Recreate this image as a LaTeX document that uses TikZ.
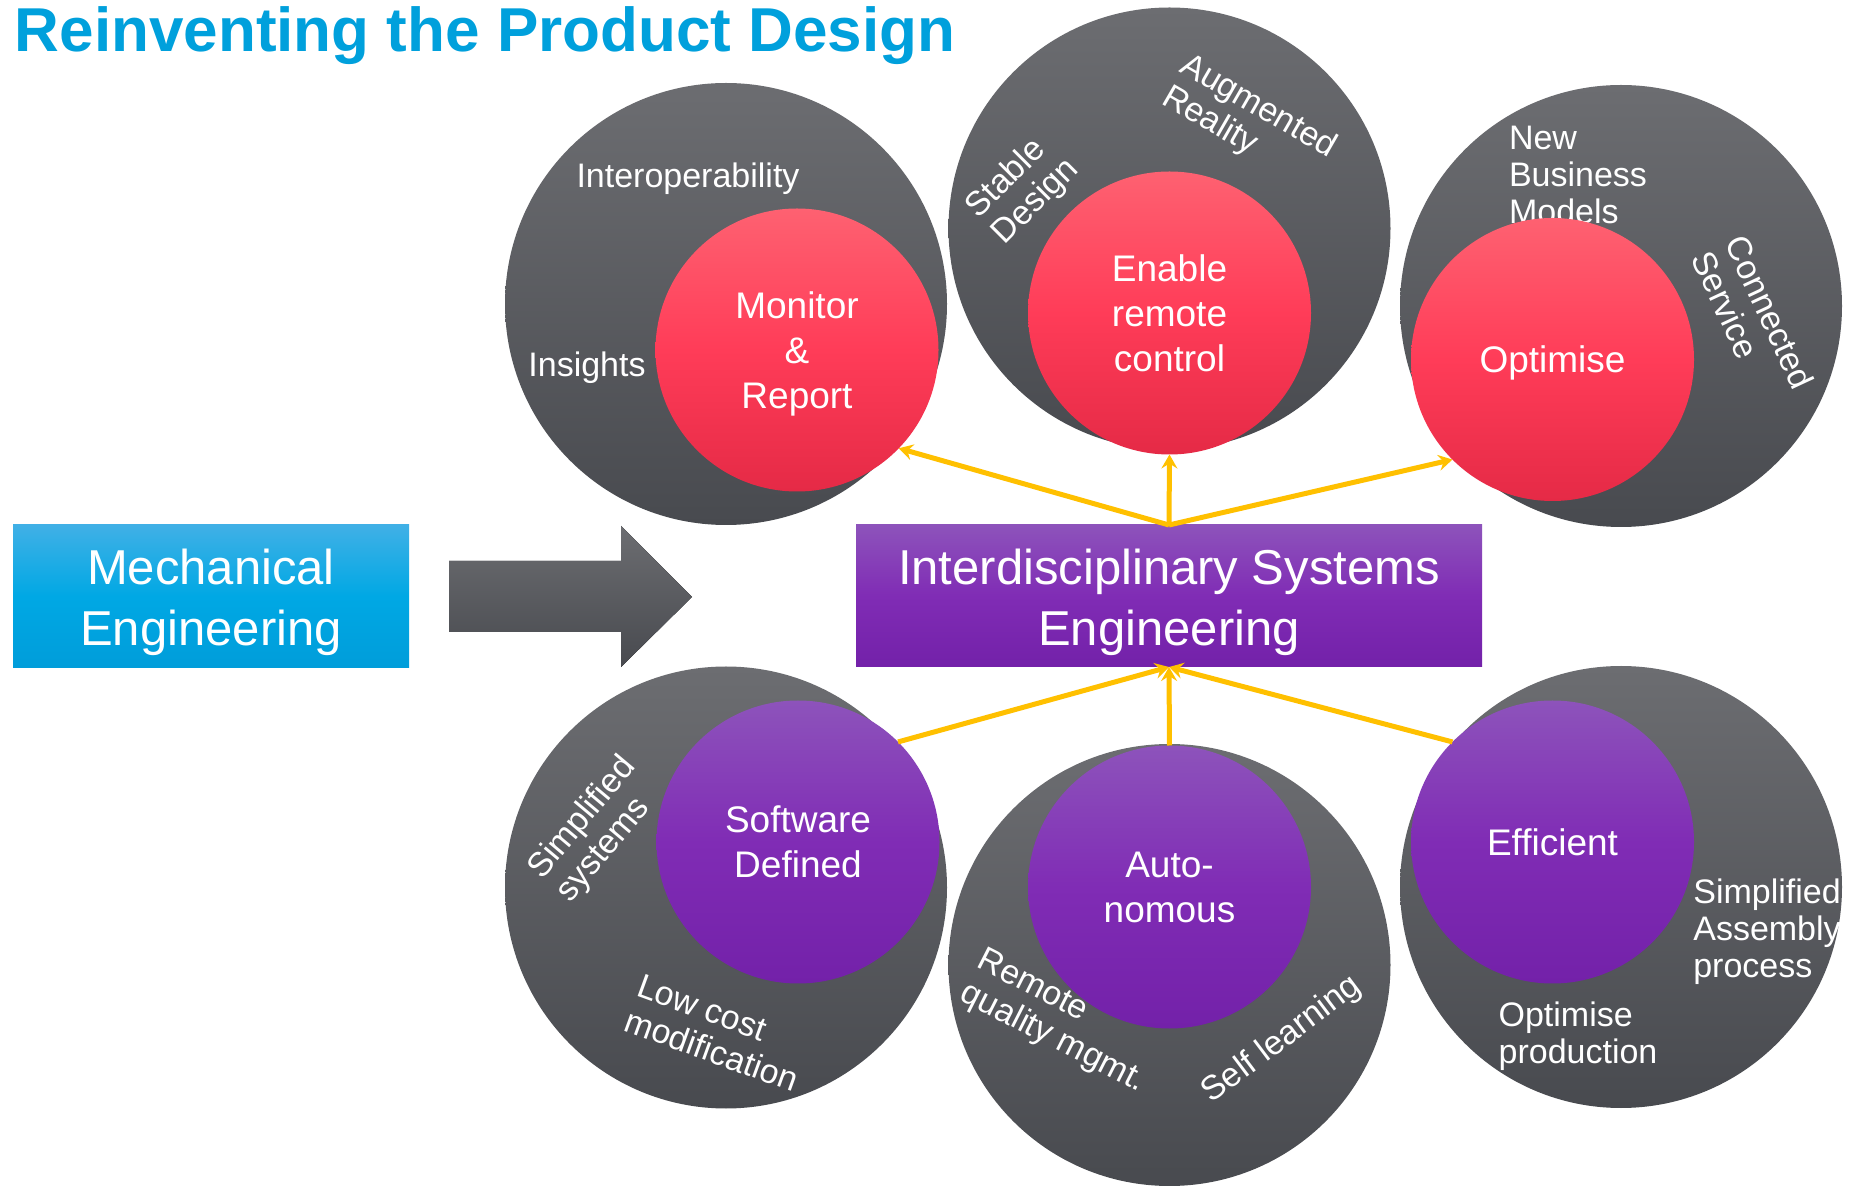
\documentclass[tikz,border=0pt]{standalone}
\usepackage{fontspec}
\setmainfont{Liberation Sans}
\usetikzlibrary{arrows.meta, shapes.geometric}
\definecolor{titleblue}{RGB}{0,160,220}
\definecolor{greytop}{RGB}{108,109,113}
\definecolor{greybot}{RGB}{72,74,79}
\definecolor{redtop}{RGB}{254,97,113}
\definecolor{redmid}{RGB}{255,60,88}
\definecolor{redbot}{RGB}{229,42,70}
\definecolor{purptop}{RGB}{141,83,187}
\definecolor{purpmid}{RGB}{128,44,181}
\definecolor{purpbot}{RGB}{115,33,169}
\definecolor{bluetop}{RGB}{64,176,230}
\definecolor{bluemid}{RGB}{0,168,228}
\definecolor{bluebot}{RGB}{0,157,218}
\definecolor{feedyellow}{RGB}{255,192,0}
% strut that pushes a node text down a little
\newcommand{\topgap}[1]{\rule{0pt}{#1}}

\begin{document}
\begin{tikzpicture}[x=0.5pt, y=-0.5pt,
    ring/.style={circle, minimum size=221pt, inner sep=0pt, outer sep=0pt,
                 top color=greytop, bottom color=greybot},
    redball/.style={circle, minimum size=141.5pt, inner sep=0pt, outer sep=0pt,
                 top color=redtop, bottom color=redbot, middle color=redmid,
                 text=white, align=center, font=\fontsize{18.5}{22.5}\selectfont},
    purpball/.style={circle, minimum size=141.5pt, inner sep=0pt, outer sep=0pt,
                 top color=purptop, bottom color=purpbot, middle color=purpmid,
                 text=white, align=center, font=\fontsize{18.5}{22.5}\selectfont},
    tag/.style={text=white, inner sep=0pt, align=left, font=\fontsize{17}{18.5}\selectfont},
    block/.style={rectangle, inner sep=0pt, outer sep=0pt, text=white, align=center,
                 font=\fontsize{24.5}{30.5}\selectfont},
    feed/.style={draw=feedyellow, line width=2.5pt, -{Stealth[length=7pt, width=8pt, inset=2.5pt]}}]

    \useasboundingbox (0,0) rectangle (1859,1186);
    \fill[white] (0,0) rectangle (1859,1186);

    % Title
    \node[anchor=base west, inner sep=0pt, text=titleblue,
          font=\fontsize{31}{37}\selectfont\bfseries] (title) at (14.5,52) {Reinventing the Product Design};

    % Outer rings
    \node[ring] (ringmon) at (726,304) {};
    \node[ring] (ringena) at (1169.5,228.5) {};
    \node[ring] (ringopt) at (1621,306) {};
    \node[ring] (ringsw) at (726,887.5) {};
    \node[ring] (ringauto) at (1169.5,965) {};
    \node[ring] (ringeff) at (1621,887) {};

    % Ring labels
    \node[tag, anchor=base] (interop) at (688,188) {Interoperability};
    \node[tag, anchor=base] (insights) at (587,377) {Insights};
    \node[tag, rotate=45] (stable) at (1023,189) {Stable\\Design};
    \node[tag, rotate=-30] (augmented) at (1249,123) {Augmented\\Reality};
    \node[tag] (business) at (1578,175) {New\\Business\\Models};
    \node[tag, rotate=-65] (connected) at (1753,320) {Connected\\Service};
    \node[tag, rotate=50] (simpsys) at (597,830) {Simplified\\systems};
    \node[tag, rotate=-20] (lowcost) at (718,1033) {Low cost\\modification};
    \node[tag, rotate=-27] (remote) at (1061,1022) {Remote\\quality mgmt.};
    \node[tag, rotate=37] (selflearn) at (1282,1040) {Self learning};
    \node[tag] (assembly) at (1767,932) {Simplified\\Assembly\\process};
    \node[tag] (optprod) at (1578,1036) {Optimise\\production};

    % Inner balls
    \node[redball] (monitor) at (797,350) {\topgap{17pt}Monitor\\\&\\Report};
    \node[redball] (enable) at (1169.5,313) {Enable\\remote\\control};
    \node[redball] (optimise) at (1552.5,359.5) {\topgap{16.7pt}Optimise};
    \node[purpball] (software) at (798,842) {Software\\Defined};
    \node[purpball] (autonomous) at (1169.5,887) {Auto-\\nomous};
    \node[purpball] (efficient) at (1552.5,842) {Efficient};

    % Boxes
    \node[block, minimum width=198pt, minimum height=71.5pt,
          top color=bluetop, bottom color=bluebot, middle color=bluemid] (mech) at (211,596.5) {\topgap{23.7pt}Mechanical\\Engineering};
    \node[block, minimum width=313pt, minimum height=71pt,
          top color=purptop, bottom color=purpbot, middle color=purpmid] (ise) at (1169,596) {\topgap{23.7pt}Interdisciplinary Systems\\Engineering};

    % Block arrow
    \fill[top color=greytop, bottom color=greybot] (449,561) -- (621,561) -- (621,526) -- (692,597)
        -- (621,667) -- (621,632) -- (449,632) -- cycle;

    % Arrows
    \draw[feed] (ise.north) -- (monitor.-44.4);
    \draw[feed] (ise.north) -- (enable.south);
    \draw[feed] (ise.north) -- (optimise.-135.6);
    \draw[feed] (software.45) -- (ise.south);
    \draw[feed] (autonomous.north) -- (ise.south);
    \draw[feed] (efficient.135) -- (ise.south);
\end{tikzpicture}
\end{document}
